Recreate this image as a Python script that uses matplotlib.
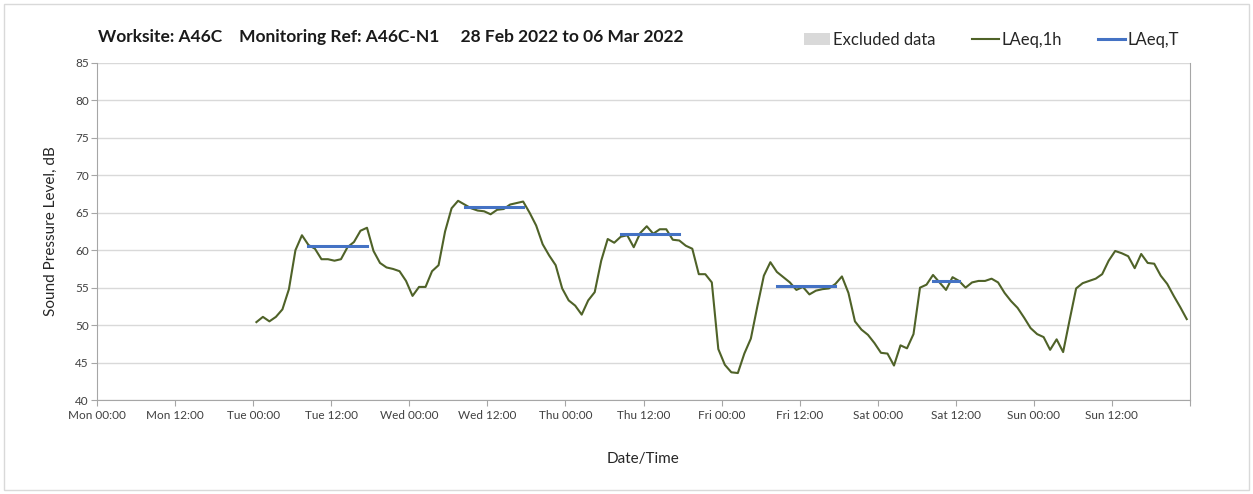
import matplotlib
matplotlib.use('Agg')
import matplotlib.pyplot as plt
import numpy as np
from matplotlib.patches import Patch, Rectangle
from matplotlib.lines import Line2D

plt.rcParams['font.family'] = ['Lato', 'DejaVu Sans']

# Hourly LAeq,1h from Tue 00:00 to Sun 23:00
laeq_1h = [
    50.4, 51.1, 50.5, 51.1, 52.1, 54.8, 60.0, 62.0, 60.7, 60.2, 58.8, 58.8,
    58.6, 58.8, 60.4, 61.1, 62.6, 63.0, 59.9, 58.3, 57.7, 57.5, 57.2, 55.9,
    53.9, 55.1, 55.1, 57.2, 58.0, 62.5, 65.6, 66.6, 66.1, 65.6, 65.3, 65.2,
    64.8, 65.4, 65.5, 66.1, 66.3, 66.5, 65.0, 63.3, 60.8, 59.3, 58.0, 54.9,
    53.3, 52.6, 51.4, 53.3, 54.4, 58.6, 61.5, 61.0, 61.8, 62.0, 60.4, 62.3,
    63.2, 62.2, 62.8, 62.8, 61.4, 61.3, 60.6, 60.2, 56.8, 56.8, 55.7, 46.8,
    44.7, 43.7, 43.6, 46.2, 48.2, 52.5, 56.6, 58.4, 57.1, 56.4, 55.7, 54.7,
    55.1, 54.1, 54.6, 54.8, 54.9, 55.5, 56.5, 54.3, 50.5, 49.4, 48.7, 47.6,
    46.3, 46.2, 44.6, 47.3, 46.9, 48.8, 55.0, 55.4, 56.7, 55.7, 54.7, 56.4,
    55.9, 55.0, 55.7, 55.9, 55.9, 56.2, 55.7, 54.3, 53.2, 52.3, 51.0, 49.6,
    48.8, 48.4, 46.7, 48.1, 46.4, 50.7, 54.9, 55.6, 55.9, 56.2, 56.8, 58.6,
    59.9, 59.6, 59.2, 57.6, 59.5, 58.3, 58.2, 56.6, 55.5, 53.9, 52.4, 50.8,
]
start_hour = 24  # Tue 00:00

# LAeq,T periods: day index (Mon=0), first hour, last hour, value
t_days = [1, 2, 3, 4, 5]
t_first = [8, 8, 8, 8, 8]
t_last = [17, 17, 17, 17, 12]
t_vals = [60.6, 65.8, 62.1, 55.2, 55.9]

day_names = ['Mon', 'Tue', 'Wed', 'Thu', 'Fri', 'Sat', 'Sun']
tick_labels = [f'{d} {h}' for d in day_names for h in ('00:00', '12:00')]

# points sit in the middle of each hourly category
hours = start_hour + np.arange(len(laeq_1h)) + 0.5
laeq_t = np.full(len(laeq_1h), np.nan)
for d, a, b, v in zip(t_days, t_first, t_last, t_vals):
    i0 = d * 24 + a - start_hour
    i1 = d * 24 + b - start_hour
    laeq_t[i0:i1 + 1] = v

fig = plt.figure(figsize=(12.53, 4.94), dpi=100)
ax = fig.add_axes([97/1253, 1 - 400/494, (1190-97)/1253, (400-63)/494])

green = '#4f6228'
blue = '#4472c4'
ax.plot(hours, laeq_1h, color=green, lw=1.5, zorder=3)
ax.plot(hours, laeq_t, color=blue, lw=2.2, zorder=4)

ax.set_xlim(0, 168)
ax.set_ylim(40, 85)
ax.set_yticks(np.arange(40, 86, 5))
ax.set_xticks(np.arange(0, 169, 12))
ax.set_xticklabels(tick_labels + [''])
ax.set_xticks(np.arange(0, 169, 24), minor=True)

ax.grid(axis='y', color='#d9d9d9', lw=1)
ax.grid(axis='x', which='minor', color='#e6e6e6', lw=1)
ax.set_axisbelow(True)

for s in ['left', 'bottom', 'right']:
    ax.spines[s].set_color('#a6a6a6')
ax.spines['top'].set_visible(False)
ax.tick_params(axis='both', which='major', colors='#a6a6a6', length=4,
               labelcolor='#404040', labelsize=8.5)
ax.tick_params(axis='x', which='minor', length=0)
ax.tick_params(axis='y', pad=2)

ax.set_ylabel('Sound Pressure Level, dB', fontsize=11, color='#262626', labelpad=12)
ax.set_xlabel('Date/Time', fontsize=11, color='#262626', labelpad=22)

fig.text(98/1253, 1 - 37/494, 'Worksite: A46C    Monitoring Ref: A46C-N1     28 Feb 2022 to 06 Mar 2022',
         fontsize=12.5, fontweight='bold', color='#1a1a1a', va='center')

handles = [Patch(facecolor='#d9d9d9', edgecolor='none'),
           Line2D([], [], color=green, lw=1.5),
           Line2D([], [], color=blue, lw=2.2)]
fig.legend(handles, ['Excluded data', 'LAeq,1h', 'LAeq,T'], loc='center right',
           bbox_to_anchor=(1194/1253, 1 - 40/494), ncol=3, frameon=False,
           fontsize=12, handlelength=1.6, handletextpad=0.15, columnspacing=2.2,
           labelcolor='#262626')

fig.patches.append(Rectangle((4/1253, 4/494), 1245/1253, 486/494, transform=fig.transFigure,
                             fill=False, edgecolor='#d9d9d9', lw=1))

fig.savefig('out.png', dpi=100, facecolor='white')
